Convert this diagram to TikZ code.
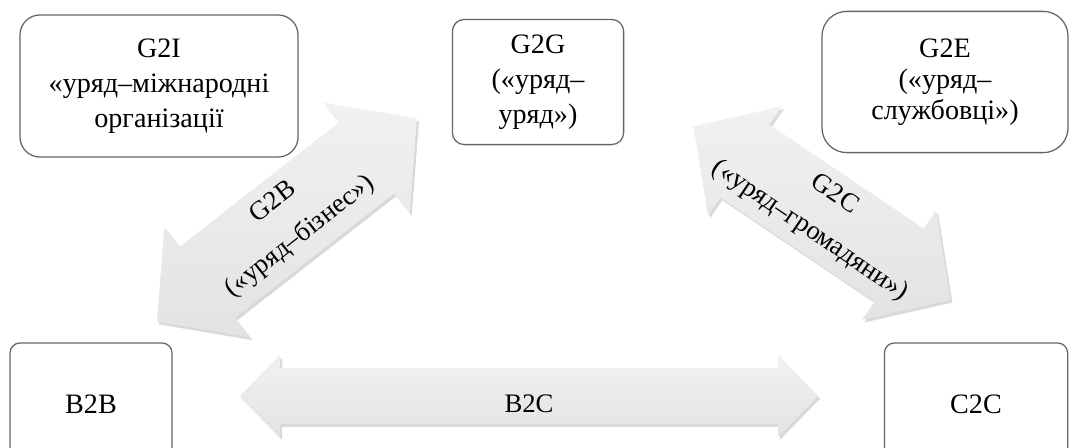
\documentclass[tikz,border=0pt]{standalone}
\usepackage{fontspec}
\setmainfont{Liberation Serif}
\usetikzlibrary{shadows}

% double headed block arrow: half length, half shaft, half head, head length
\newcommand{\dblarrowpath}[4]{(-#1,0) -- (-#1+#4,-#3) -- (-#1+#4,-#2) -- (#1-#4,-#2) -- (#1-#4,-#3) -- (#1,0)
    -- (#1-#4,#3) -- (#1-#4,#2) -- (-#1+#4,#2) -- (-#1+#4,#3) -- cycle}

\begin{document}
\begin{tikzpicture}[x=0.025cm, y=-0.025cm,
    box/.style={draw=black!60, line width=0.9pt, fill=white, align=center,
        text=black, font=\fontsize{20}{25}\selectfont},
    bigarrow/.style={top color=gray!11, bottom color=gray!22,
        drop shadow={opacity=0.3, shadow xshift=0.5mm, shadow yshift=-0.7mm}},
    arrowtext/.style={align=center, text=black, inner sep=0pt,
        font=\fontsize{19}{31}\selectfont}]
        \clip (0,0) rectangle (1077,447);
        % boxes
        \node[box, minimum width=6.95cm, minimum height=3.55cm, rounded corners=0.5cm] (g2i) at (159,86) {G2I\\«уряд–міжнародні\\організації};
        \node[box, minimum width=4.28cm, minimum height=3.13cm, rounded corners=0.3cm] (g2g) at (538,82) {G2G\\(«уряд–\\уряд»)};
        \node[box, minimum width=6.15cm, minimum height=3.53cm, rounded corners=0.62cm, font=\fontsize{20}{22}\selectfont] (g2e) at (945,82) {G2E\\(«уряд–\\службовці»)};
        \node[box, minimum width=4.05cm, minimum height=3.05cm, rounded corners=0.25cm] (b2b) at (91,404) {B2B};
        \node[box, minimum width=4.58cm, minimum height=3.05cm, rounded corners=0.25cm] (c2c) at (976,404) {C2C};
        % arrows
        \path[bigarrow, shift={(287,220)}, rotate=38] \dblarrowpath{165}{45}{70}{64};
        \path[bigarrow, shift={(822,213)}, rotate=-34] \dblarrowpath{155}{44}{66}{62};
        \path[bigarrow, shift={(529,396)}] \dblarrowpath{289}{28}{41}{40};
        % arrow labels
        \node[arrowtext, rotate=38] (g2blabel) at (287,220) {G2B\\(«уряд–бізнес»)};
        \node[arrowtext, rotate=-34] (g2clabel) at (822,213) {G2C\\(«уряд–громадяни»)};
        \node[arrowtext] (b2clabel) at (529,404) {B2C};
\end{tikzpicture}
\end{document}
